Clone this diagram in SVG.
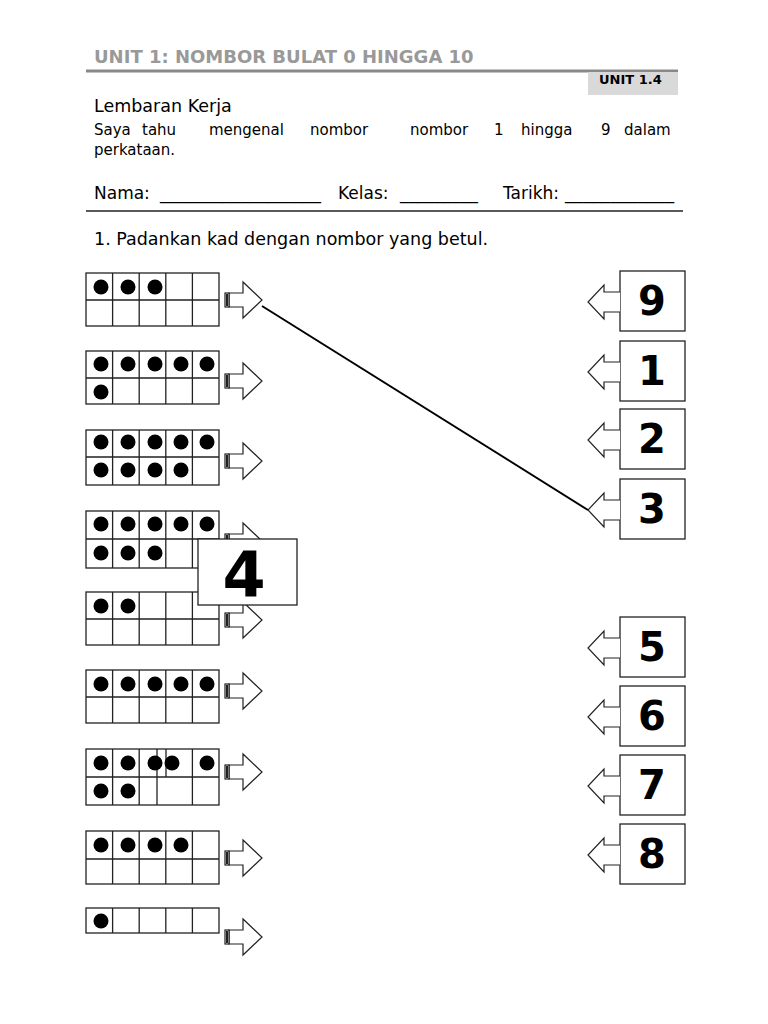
<svg xmlns="http://www.w3.org/2000/svg" width="768" height="1024" viewBox="0 0 768 1024">
<style>
text{font-family:"DejaVu Sans",sans-serif;fill:#000}
.g{fill:none;stroke:#222;stroke-width:1.3}
.d{fill:#000}
.ar{fill:#fff;stroke:#222;stroke-width:1.2}
.card{fill:#fff;stroke:#222;stroke-width:1.3}
.num{font-size:40px;font-weight:bold;text-anchor:middle}
</style>
<defs>
<g id="rarrow"><path class="ar" d="M229,-7 H243 V-18 L262,0 L243,18 V7 H229 Z"/><rect x="225" y="-7" width="4" height="14" fill="#fff" stroke="#222" stroke-width="1.2"/><rect x="226" y="-6" width="2" height="12" fill="#222"/></g>
<g id="larrow"><path class="ar" d="M620,-10 H604 V-17 L588,0 L604,17 V10 H620"/></g>
</defs>
<rect width="768" height="1024" fill="#fff"/>
<text x="94" y="63" font-size="18" font-weight="bold" style="fill:#999">UNIT 1: NOMBOR BULAT 0 HINGGA 10</text>
<line x1="86" y1="71" x2="678" y2="71" stroke="#888" stroke-width="3"/>
<rect x="588" y="72" width="90" height="23" fill="#d9d9d9"/>
<text x="599" y="84" font-size="13" font-weight="bold">UNIT 1.4</text>
<text x="94" y="112" font-size="17.5">Lembaran Kerja</text>
<text y="135" font-size="15"><tspan x="94">Saya</tspan><tspan x="142">tahu</tspan><tspan x="209">mengenal</tspan><tspan x="310">nombor</tspan><tspan x="410">nombor</tspan><tspan x="494">1</tspan><tspan x="521">hingga</tspan><tspan x="601">9</tspan><tspan x="624">dalam</tspan></text>
<text x="94" y="155" font-size="15">perkataan.</text>
<text y="199" font-size="17"><tspan x="94">Nama: </tspan><tspan x="160" textLength="161" lengthAdjust="spacingAndGlyphs">__________________</tspan><tspan x="338">Kelas: </tspan><tspan x="400" textLength="78" lengthAdjust="spacingAndGlyphs">_________</tspan><tspan x="503">Tarikh:</tspan><tspan x="565" textLength="109" lengthAdjust="spacingAndGlyphs">____________</tspan></text>
<line x1="86" y1="211" x2="683" y2="211" stroke="#222" stroke-width="1.3"/>
<text x="94" y="245" font-size="17.5">1. Padankan kad dengan nombor yang betul.</text>

<g id="frame1"><rect class="g" x="86" y="273" width="133" height="53"/><path class="g" d="M86,300H219M112.6,273V326M139.2,273V326M165.8,273V326M192.4,273V326"/><circle class="d" cx="101" cy="287" r="7.5"/><circle class="d" cx="128" cy="287" r="7.5"/><circle class="d" cx="155" cy="287" r="7.5"/><use href="#rarrow" y="300"/></g>
<g id="frame2"><rect class="g" x="86" y="351" width="133" height="53"/><path class="g" d="M86,378H219M112.6,351V404M139.2,351V404M165.8,351V404M192.4,351V404"/><circle class="d" cx="101" cy="364" r="7.5"/><circle class="d" cx="128" cy="364" r="7.5"/><circle class="d" cx="155" cy="364" r="7.5"/><circle class="d" cx="181" cy="364" r="7.5"/><circle class="d" cx="207" cy="364" r="7.5"/><circle class="d" cx="101" cy="392" r="7.5"/><use href="#rarrow" y="381"/></g>
<g id="frame3"><rect class="g" x="86" y="430" width="133" height="55"/><path class="g" d="M86,457H219M112.6,430V485M139.2,430V485M165.8,430V485M192.4,430V485"/><circle class="d" cx="101" cy="442" r="7.5"/><circle class="d" cx="128" cy="442" r="7.5"/><circle class="d" cx="155" cy="442" r="7.5"/><circle class="d" cx="181" cy="442" r="7.5"/><circle class="d" cx="207" cy="442" r="7.5"/><circle class="d" cx="101" cy="470" r="7.5"/><circle class="d" cx="128" cy="470" r="7.5"/><circle class="d" cx="155" cy="470" r="7.5"/><circle class="d" cx="181" cy="470" r="7.5"/><use href="#rarrow" y="461"/></g>
<g id="frame4"><rect class="g" x="86" y="511" width="133" height="57"/><path class="g" d="M86,539H219M112.6,511V568M139.2,511V568M165.8,511V568M192.4,511V568"/><circle class="d" cx="101" cy="524" r="7.5"/><circle class="d" cx="128" cy="524" r="7.5"/><circle class="d" cx="155" cy="524" r="7.5"/><circle class="d" cx="181" cy="524" r="7.5"/><circle class="d" cx="207" cy="524" r="7.5"/><circle class="d" cx="101" cy="553" r="7.5"/><circle class="d" cx="128" cy="553" r="7.5"/><circle class="d" cx="155" cy="553" r="7.5"/><use href="#rarrow" y="541"/></g>
<g id="frame5"><rect class="g" x="86" y="592" width="133" height="53"/><path class="g" d="M86,619H219M112.6,592V645M139.2,592V645M165.8,592V645M192.4,592V645"/><circle class="d" cx="101" cy="606" r="7.5"/><circle class="d" cx="128" cy="606" r="7.5"/><use href="#rarrow" y="620"/></g>
<g id="card4"><rect class="card" x="198" y="539" width="99" height="66"/><text x="244" y="596" font-size="62" font-weight="bold" text-anchor="middle">4</text></g>
<g id="frame6"><rect class="g" x="86" y="670" width="133" height="53"/><path class="g" d="M86,697H219M112.6,670V723M139.2,670V723M165.8,670V723M192.4,670V723"/><circle class="d" cx="101" cy="684" r="7.5"/><circle class="d" cx="128" cy="684" r="7.5"/><circle class="d" cx="155" cy="684" r="7.5"/><circle class="d" cx="181" cy="684" r="7.5"/><circle class="d" cx="207" cy="684" r="7.5"/><use href="#rarrow" y="691"/></g>
<g id="frame7"><rect class="g" x="86" y="749" width="133" height="56"/><path class="g" d="M86,777H219M112.6,749V805M139.2,749V805M157,749V805M166,749V777M192.4,749V805"/><circle class="d" cx="101" cy="763" r="7.5"/><circle class="d" cx="128" cy="763" r="7.5"/><circle class="d" cx="155" cy="763" r="7.5"/><circle class="d" cx="172" cy="763" r="7.5"/><circle class="d" cx="207" cy="763" r="7.5"/><circle class="d" cx="101" cy="791" r="7.5"/><circle class="d" cx="128" cy="791" r="7.5"/><use href="#rarrow" y="772"/></g>
<g id="frame8"><rect class="g" x="86" y="831" width="133" height="53"/><path class="g" d="M86,859H219M112.6,831V884M139.2,831V884M165.8,831V884M192.4,831V884"/><circle class="d" cx="101" cy="845" r="7.5"/><circle class="d" cx="128" cy="845" r="7.5"/><circle class="d" cx="155" cy="845" r="7.5"/><circle class="d" cx="181" cy="845" r="7.5"/><use href="#rarrow" y="858"/></g>
<g id="frame9"><rect class="g" x="86" y="908" width="133" height="25"/><path class="g" d="M112.6,908V933M139.2,908V933M165.8,908V933M192.4,908V933"/><circle class="d" cx="101" cy="921" r="7.5"/><use href="#rarrow" y="937"/></g>

<g id="n9"><rect class="card" x="620" y="271" width="65" height="60"/><use href="#larrow" y="302"/><text class="num" x="652" y="315">9</text></g>
<g id="n1"><rect class="card" x="620" y="341" width="65" height="60"/><use href="#larrow" y="372"/><text class="num" x="652" y="385">1</text></g>
<g id="n2"><rect class="card" x="620" y="409" width="65" height="60"/><use href="#larrow" y="440"/><text class="num" x="652" y="453">2</text></g>
<g id="n3"><rect class="card" x="620" y="479" width="65" height="60"/><use href="#larrow" y="510"/><text class="num" x="652" y="523">3</text></g>
<g id="n5"><rect class="card" x="620" y="617" width="65" height="60"/><use href="#larrow" y="648"/><text class="num" x="652" y="661">5</text></g>
<g id="n6"><rect class="card" x="620" y="686" width="65" height="60"/><use href="#larrow" y="717"/><text class="num" x="652" y="730">6</text></g>
<g id="n7"><rect class="card" x="620" y="755" width="65" height="60"/><use href="#larrow" y="786"/><text class="num" x="652" y="799">7</text></g>
<g id="n8"><rect class="card" x="620" y="824" width="65" height="60"/><use href="#larrow" y="855"/><text class="num" x="652" y="868">8</text></g>

<g id="connectors"><line x1="262" y1="306" x2="588" y2="510" stroke="#000" stroke-width="2"/></g>
</svg>
